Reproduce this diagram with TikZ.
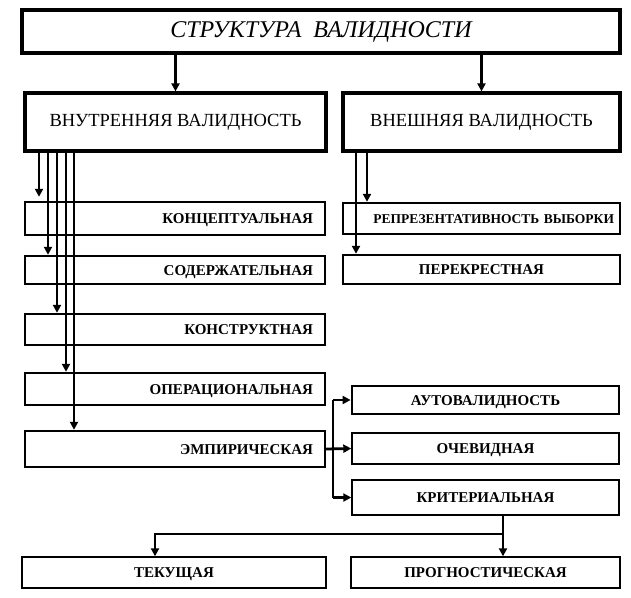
\documentclass[tikz,border=0pt]{standalone}
\usepackage{fontspec}
\setmainfont{Liberation Serif}
\usetikzlibrary{arrows.meta}

\begin{document}
\begin{tikzpicture}[x=1pt,y=-1pt,
    arr/.style={line width=2.8pt,-{Triangle[length=8pt,width=8pt]}},
    lin/.style={line width=2.8pt},
    box/.style={draw,line width=2.4pt,inner sep=0pt,text height=10pt,text depth=0pt,font=\fontsize{15}{17}\selectfont\bfseries},
    leftbox/.style={box,minimum width=300pt,text width=276pt,align=right},
    thinbox/.style={box,line width=1.4pt}]
    \useasboundingbox(0,0)rectangle(631,597);

    \node[draw,line width=4pt,minimum width=598pt,minimum height=43pt,font=\fontsize{24}{28}\selectfont\itshape](top)at(321,31.5){СТРУКТУРА~~ВАЛИДНОСТИ};
    \node[draw,line width=3.2pt,minimum width=301pt,minimum height=58pt,font=\fontsize{18.5}{22}\selectfont](inner)at(175.5,122){ВНУТРЕННЯЯ ВАЛИДНОСТЬ};
    \node[draw,line width=3.2pt,minimum width=277pt,minimum height=58pt,font=\fontsize{18.5}{22}\selectfont](outer)at(481.5,122){ВНЕШНЯЯ ВАЛИДНОСТЬ};
    \draw[arr](top.south -| inner.north)--(inner.north);
    \draw[arr](top.south -| outer.north)--(outer.north);

    % internal
    \node[leftbox,minimum height=33pt](konc)at(175,218.5){КОНЦЕПТУАЛЬНАЯ};
    \node[leftbox,minimum height=28pt](sod)at(175,270){СОДЕРЖАТЕЛЬНАЯ};
    \node[leftbox,minimum height=31pt](konstr)at(175,329.5){КОНСТРУКТНАЯ};
    \node[leftbox,minimum height=32pt](oper)at(175,389){ОПЕРАЦИОНАЛЬНАЯ};
    \node[leftbox,minimum height=36pt](emp)at(175,449){ЭМПИРИЧЕСКАЯ};
    \draw[arr,shorten >=4pt](inner.south -| 39,0)--(konc.north -| 39,0);
    \foreach \x/\t in {48/sod,57/konstr,66/oper,74/emp}
        \draw[arr](inner.south -| \x,0)--(\t.north -| \x,0);

    % external
    \node[box,minimum width=277pt,minimum height=31pt,text width=265pt,align=right,font=\fontsize{13.5}{16}\selectfont\bfseries](repr)at(481.5,218.5){РЕПРЕЗЕНТАТИВНОСТЬ ВЫБОРКИ};
    \node[box,minimum width=277pt,minimum height=29pt](perekr)at(481.5,269.5){ПЕРЕКРЕСТНАЯ};
    \draw[arr](outer.south -| 367,0)--(repr.north -| 367,0);
    \draw[arr](outer.south -| 356,0)--(perekr.north -| 356,0);

    % empirical
    \node[box,line width=2.8pt,minimum width=267pt,minimum height=28pt](auto)at(485.5,400){АУТОВАЛИДНОСТЬ};
    \node[thinbox,minimum width=267pt,minimum height=31pt](ochev)at(485.5,448.5){ОЧЕВИДНАЯ};
    \node[thinbox,minimum width=267pt,minimum height=35pt](krit)at(485.5,497.5){КРИТЕРИАЛЬНАЯ};
    \coordinate(br)at(333,449);
    \draw[lin](br |- auto.west)--(br |- krit.west);
    \draw[arr](emp.east)--(ochev.west);
    \draw[arr](br |- auto.west)--(auto.west);
    \draw[arr](br |- krit.west)--(krit.west);

    % criterial
    \node[thinbox,minimum width=304pt,minimum height=31pt](tek)at(174,572.5){ТЕКУЩАЯ};
    \node[thinbox,minimum width=269pt,minimum height=31pt](prog)at(485.5,572.5){ПРОГНОСТИЧЕСКАЯ};
    \coordinate(fork)at(503,534);
    \draw[arr](krit.south -| fork)--(prog.north -| fork);
    \draw[arr](fork)-|(tek.north -| 155,0);
\end{tikzpicture}
\end{document}
